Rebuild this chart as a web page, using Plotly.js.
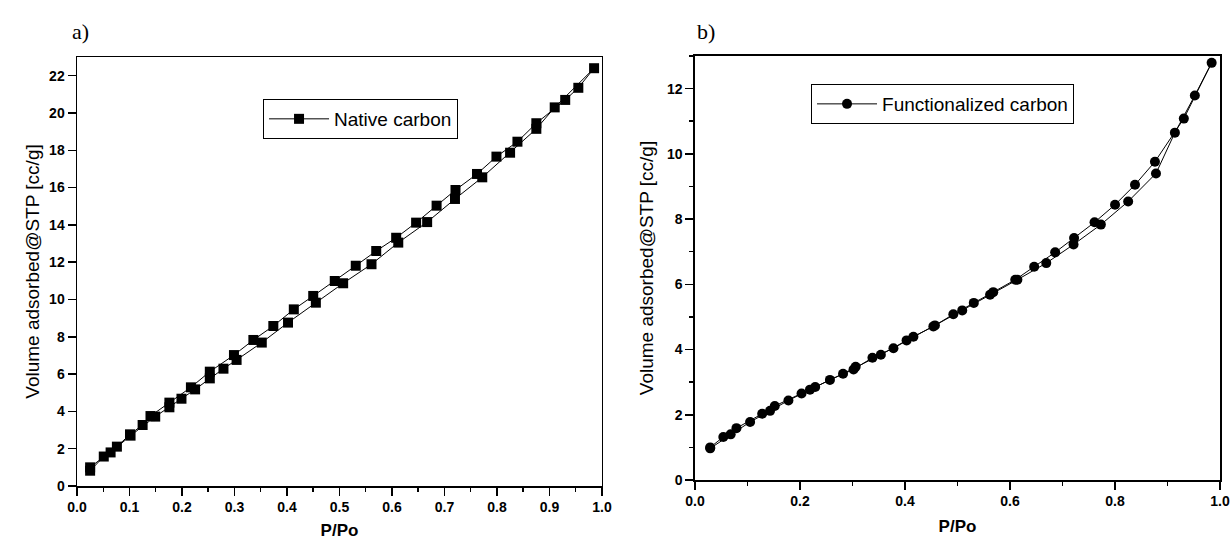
<!DOCTYPE html>
<html>
<head>
<meta charset="utf-8">
<script src="https://cdn.plot.ly/plotly-3.0.1.min.js"></script>
<style>html,body{margin:0;padding:0;background:#fff;}#chart{width:1232px;height:540px;}</style>
</head>
<body>
<div id="chart"></div>
<script>
// Panel a) Native carbon: adsorption (lower) then desorption (upper) branch
const nativeAdsX = [0.025, 0.051, 0.064, 0.102, 0.149, 0.176, 0.199, 0.225, 0.253, 0.279, 0.304, 0.352, 0.402, 0.455, 0.507, 0.561, 0.612, 0.667, 0.720, 0.772, 0.825, 0.875, 0.91, 0.985];
const nativeAdsY = [0.82, 1.58, 1.80, 2.70, 3.72, 4.22, 4.68, 5.18, 5.77, 6.29, 6.76, 7.69, 8.76, 9.83, 10.87, 11.89, 13.05, 14.15, 15.39, 16.55, 17.87, 19.15, 20.3, 22.4];
const nativeDesX = [0.955, 0.93, 0.875, 0.839, 0.799, 0.762, 0.721, 0.685, 0.646, 0.608, 0.570, 0.531, 0.491, 0.450, 0.413, 0.374, 0.336, 0.299, 0.253, 0.217, 0.176, 0.140, 0.125, 0.101, 0.076, 0.025];
const nativeDesY = [21.35, 20.7, 19.45, 18.46, 17.66, 16.73, 15.87, 15.03, 14.12, 13.31, 12.60, 11.81, 10.99, 10.19, 9.47, 8.58, 7.83, 7.02, 6.13, 5.29, 4.47, 3.75, 3.27, 2.77, 2.11, 1.0];

// Panel b) Functionalized carbon
const funcAdsX = [0.029, 0.068, 0.105, 0.143, 0.178, 0.219, 0.257, 0.302, 0.338, 0.378, 0.416, 0.457, 0.509, 0.562, 0.614, 0.669, 0.721, 0.773, 0.825, 0.878, 0.914, 0.952, 0.984];
const funcAdsY = [0.97, 1.40, 1.78, 2.12, 2.44, 2.77, 3.07, 3.39, 3.75, 4.04, 4.39, 4.74, 5.20, 5.68, 6.14, 6.65, 7.22, 7.83, 8.54, 9.40, 10.65, 11.79, 12.79];
const funcDesX = [0.931, 0.876, 0.838, 0.800, 0.761, 0.722, 0.686, 0.646, 0.610, 0.568, 0.531, 0.492, 0.454, 0.403, 0.354, 0.306, 0.282, 0.229, 0.203, 0.152, 0.128, 0.079, 0.054, 0.029];
const funcDesY = [11.08, 9.76, 9.05, 8.44, 7.90, 7.42, 6.98, 6.54, 6.14, 5.76, 5.43, 5.08, 4.71, 4.28, 3.84, 3.47, 3.26, 2.85, 2.65, 2.27, 2.03, 1.59, 1.32, 1.00];

const seriesNames = ["Native carbon", "Functionalized carbon"];
const xTitle = "P/Po";
const yTitle = "Volume adsorbed@STP [cc/g]";
const panelLabels = ["a)", "b)"];

const tickFont = {family: "Liberation Sans, Arial, sans-serif", size: 14, color: "#000", weight: "bold"};

const traces = [
  {
    x: nativeAdsX.concat(nativeDesX), y: nativeAdsY.concat(nativeDesY),
    xaxis: "x", yaxis: "y", name: seriesNames[0], legend: "legend",
    mode: "lines+markers", line: {color: "#000", width: 1},
    marker: {symbol: "square", size: 10, color: "#000"}
  },
  {
    x: funcAdsX.concat(funcDesX), y: funcAdsY.concat(funcDesY),
    xaxis: "x2", yaxis: "y2", name: seriesNames[1], legend: "legend2",
    mode: "lines+markers", line: {color: "#000", width: 1},
    marker: {symbol: "circle", size: 10, color: "#000"}
  }
];

const minorStyle = {ticks: "outside", ticklen: 4, tickwidth: 1.5, tickcolor: "#000"};

function axisBase(extra) {
  return Object.assign({
    showline: true, linecolor: "#000", linewidth: 1.5, mirror: true,
    ticks: "outside", ticklen: 8, tickwidth: 1.5, tickcolor: "#000",
    showgrid: false, zeroline: false, tickfont: tickFont,
    title: {}
  }, extra);
}

const layout = {
  width: 1232, height: 540,
  margin: {l: 0, r: 0, t: 0, b: 0},
  paper_bgcolor: "#fff", plot_bgcolor: "#fff",
  font: {family: "Liberation Sans, Arial, sans-serif", color: "#000"},
  xaxis: axisBase({domain: [0.0625, 0.4886], range: [0, 1.0], dtick: 0.1, tick0: 0, tickformat: ".1f",
    minor: Object.assign({dtick: 0.05}, minorStyle),
    anchor: "y",
    title: {text: xTitle, font: {size: 17, weight: "bold", color: "#000"}, standoff: 12}}),
  yaxis: axisBase({domain: [0.1, 0.8944], range: [0, 23], dtick: 2, tick0: 0, anchor: "x",
    title: {text: yTitle, font: {size: 19, color: "#000"}, standoff: 4}}),
  xaxis2: axisBase({domain: [0.5641, 0.9903], range: [0, 1.0], dtick: 0.2, tick0: 0, tickformat: ".1f",
    minor: Object.assign({dtick: 0.1}, minorStyle),
    anchor: "y2",
    title: {text: xTitle, font: {size: 17, weight: "bold", color: "#000"}, standoff: 12}}),
  yaxis2: axisBase({domain: [0.1111, 0.8963], range: [0, 13], dtick: 2, tick0: 0, anchor: "x2",
    minor: Object.assign({dtick: 1}, minorStyle),
    title: {text: yTitle, font: {size: 19, color: "#000"}, standoff: 8}}),
  showlegend: true,
  legend: {x: 0.2135, y: 0.8167, xanchor: "left", yanchor: "top", itemwidth: 60,
    bordercolor: "#000", borderwidth: 1, bgcolor: "#fff",
    font: {size: 19, color: "#000"}},
  legend2: {x: 0.6583, y: 0.8444, xanchor: "left", yanchor: "top", itemwidth: 60,
    bordercolor: "#000", borderwidth: 1, bgcolor: "#fff",
    font: {size: 19, color: "#000"}},
  annotations: [
    {text: panelLabels[0], x: 0.057, y: 0.915, xref: "paper", yref: "paper", xanchor: "left", yanchor: "bottom",
     showarrow: false, font: {family: "Liberation Serif, Times New Roman, serif", size: 22, color: "#000"}},
    {text: panelLabels[1], x: 0.564, y: 0.915, xref: "paper", yref: "paper", xanchor: "left", yanchor: "bottom",
     showarrow: false, font: {family: "Liberation Serif, Times New Roman, serif", size: 22, color: "#000"}}
  ]
};

Plotly.newPlot("chart", traces, layout, {displayModeBar: false, staticPlot: true});
</script>
</body>
</html>
